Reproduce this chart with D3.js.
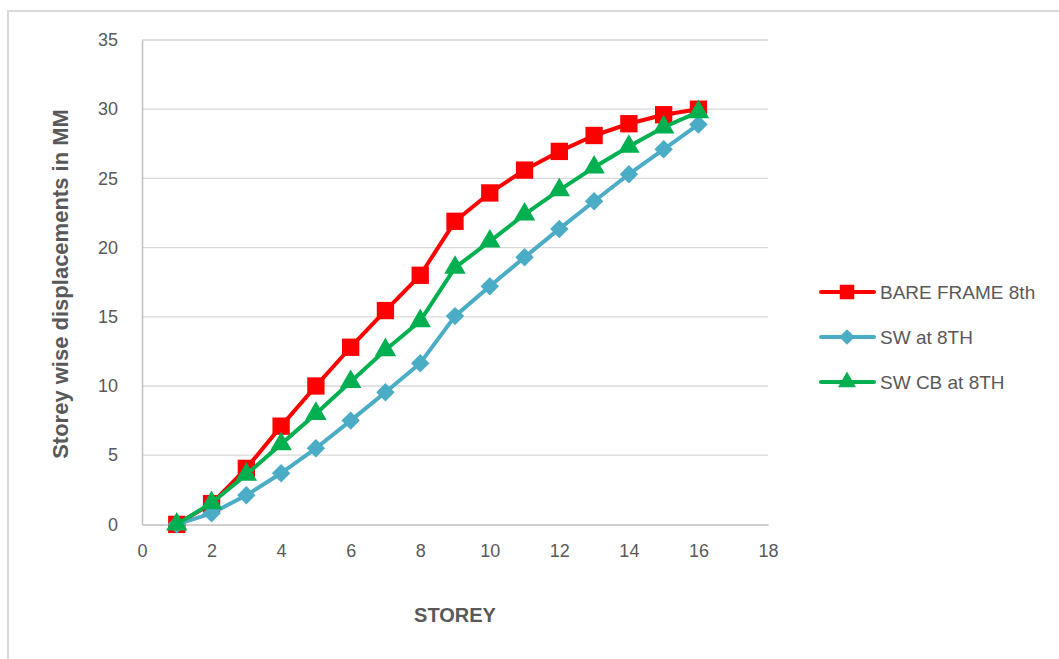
<!DOCTYPE html>
<html><head><meta charset="utf-8">
<script src="https://cdn.jsdelivr.net/npm/d3@7"></script>
<style>body{margin:0;background:#fff;} svg{display:block;}</style>
</head><body>
<div id="chart"></div>
<script>
const storeys = [1,2,3,4,5,6,7,8,9,10,11,12,13,14,15,16];
const bareFrame = [0,1.5,4.05,7.1,10.0,12.8,15.45,18.0,21.9,23.95,25.6,26.95,28.1,28.95,29.6,30.0];
const swAt8 = [0,0.8,2.1,3.7,5.5,7.5,9.55,11.65,15.05,17.2,19.3,21.35,23.35,25.3,27.1,28.9];
const swCbAt8 = [0,1.55,3.6,5.8,8.0,10.3,12.6,14.7,18.55,20.45,22.4,24.15,25.8,27.3,28.7,29.8];
const xTicks = [0,2,4,6,8,10,12,14,16,18];
const yTicks = [0,5,10,15,20,25,30,35];
const seriesNames = ["BARE FRAME 8th","SW at 8TH","SW CB at 8TH"];

const W = 1059, H = 659;
const svg = d3.select("#chart").append("svg").attr("width", W).attr("height", H);
const font = "'Liberation Sans', Arial, sans-serif";

svg.append("rect").attr("x", 8).attr("y", 11).attr("width", 1200).attr("height", 800)
  .attr("fill", "#fff").attr("stroke", "#d9d9d9").attr("stroke-width", 2);

const x = d3.scaleLinear().domain([0,18]).range([142,768]);
const y = d3.scaleLinear().domain([0,35]).range([524.4,40]);

// gridlines
svg.append("g").selectAll("line").data(yTicks.filter(d => d > 0)).join("line")
  .attr("x1", x(0)).attr("x2", x(18)).attr("y1", d => y(d)).attr("y2", d => y(d))
  .attr("stroke", "#d9d9d9").attr("stroke-width", 1.3);

// axes
const xAxis = svg.append("g").attr("transform", `translate(0,${y(0)})`)
  .call(d3.axisBottom(x).tickValues(xTicks).tickSize(0).tickPadding(20));
const yAxis = svg.append("g").attr("transform", `translate(${x(0)},0)`)
  .call(d3.axisLeft(y).tickValues(yTicks).tickSize(0).tickPadding(24));
[xAxis, yAxis].forEach(a => {
  a.select(".domain").attr("stroke", "#bfbfbf").attr("stroke-width", 1.5);
  a.selectAll("text").attr("fill", "#595959").style("font-family", font).style("font-size", "18px");
});

svg.append("text").attr("x", 455).attr("y", 622).attr("text-anchor", "middle")
  .attr("fill", "#595959").style("font-family", font).style("font-size", "20px").style("font-weight", "bold")
  .text("STOREY");
svg.append("text").attr("transform", "translate(68,284) rotate(-90)").attr("text-anchor", "middle")
  .attr("fill", "#595959").style("font-family", font).style("font-size", "22px").style("font-weight", "bold")
  .text("Storey wise displacements in MM");

const series = [
  {name: seriesNames[0], vals: bareFrame, color: "#ff0000", sym: d3.symbolSquare, size: 300, rot: 0},
  {name: seriesNames[1], vals: swAt8, color: "#4bacc6", sym: d3.symbolSquare, size: 170, rot: 45},
  {name: seriesNames[2], vals: swCbAt8, color: "#00b050", sym: d3.symbolTriangle, size: 200, rot: 0},
];
const line = d3.line().x((d,i) => x(storeys[i])).y(d => y(d));
series.forEach(s => {
  const g = svg.append("g");
  g.append("path").attr("d", line(s.vals)).attr("fill", "none").attr("stroke", s.color)
    .attr("stroke-width", 4).attr("stroke-linejoin", "round");
  g.selectAll("path.m").data(s.vals).join("path").attr("class", "m")
    .attr("transform", (d,i) => `translate(${x(storeys[i])},${y(d)}) rotate(${s.rot})`)
    .attr("d", d3.symbol().type(s.sym).size(s.size)).attr("fill", s.color);
});

// legend
const ly = [292, 337, 382];
series.forEach((s, i) => {
  const g = svg.append("g").attr("transform", `translate(0,${ly[i]})`);
  g.append("line").attr("x1", 821).attr("x2", 874).attr("y1", 0).attr("y2", 0)
    .attr("stroke", s.color).attr("stroke-width", 4).attr("stroke-linecap", "round");
  g.append("path").attr("transform", `translate(847,0) rotate(${s.rot})`)
    .attr("d", d3.symbol().type(s.sym).size(s.size * 0.7)).attr("fill", s.color);
  g.append("text").attr("x", 880).attr("y", 7).attr("fill", "#595959")
    .style("font-family", font).style("font-size", "19px").text(s.name);
});
</script>
</body></html>
